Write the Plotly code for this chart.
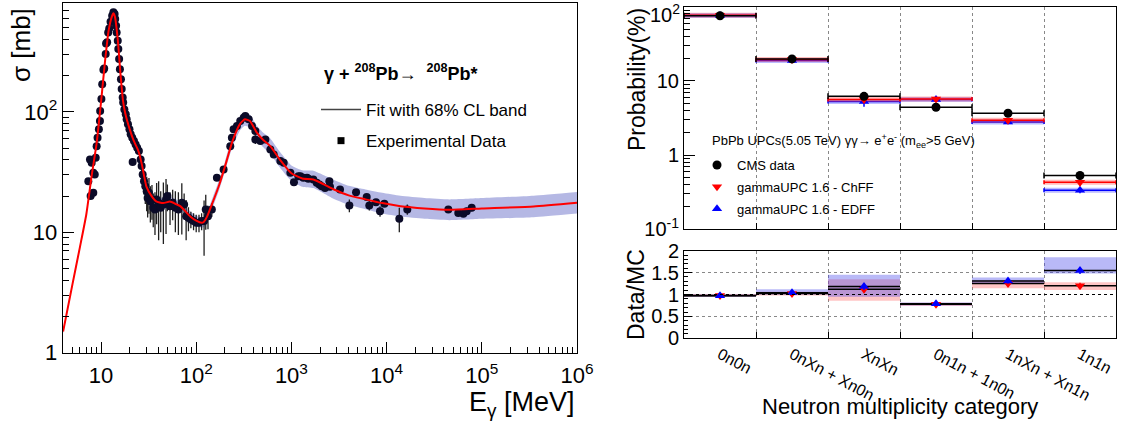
import numpy as np
import plotly.graph_objects as go

# ---------------- left panel: photo-absorption cross section ----------------
fit_E = [4, 5, 6, 7, 8, 9, 10, 11, 12, 13, 13.5, 14, 15, 16, 17, 18, 20, 22, 24, 25,
         27, 30, 34, 38, 45, 53, 60, 68, 78, 88, 100, 114, 120, 130, 150, 175, 200, 240, 290, 325,
         367, 430, 500, 600, 760, 1000, 1300, 1700, 2200, 2800, 4000, 6000, 9000, 14000, 25000,
         46000, 100000, 350000, 1000000]
fit_sigma = [1.5, 3.66, 7.5, 14, 30, 55, 120, 260, 470, 620, 660, 620, 400, 210, 125, 97, 72, 58, 50, 46,
             36, 24, 20, 18.1, 17.5, 18, 17.3, 16.5, 14.8, 13.4, 12.5, 12, 12.2, 13.5, 18, 25, 35, 57, 80, 87,
             84, 68, 59, 52, 40, 31, 28, 27.5, 25, 22.7, 20.3, 18.8, 17.5, 16.5, 15.8,
             15.4, 15.8, 16.4, 17.6]
fit_rel = [0.04, 0.04, 0.04, 0.04, 0.04, 0.04, 0.04, 0.04, 0.04, 0.04,
           0.04, 0.04, 0.04, 0.04, 0.05, 0.05, 0.05, 0.06, 0.06, 0.06,
           0.07, 0.08, 0.09, 0.1, 0.1, 0.1, 0.1, 0.1, 0.1, 0.1,
           0.1, 0.1, 0.1, 0.1, 0.1, 0.1, 0.1, 0.12, 0.13, 0.13,
           0.13, 0.14, 0.15, 0.16, 0.16, 0.16, 0.17, 0.18, 0.19, 0.2,
           0.2, 0.21, 0.22, 0.22, 0.22, 0.22, 0.22, 0.23, 0.23]

exp_E = [7.36, 7.66, 7.98, 8.3, 7.78, 8.3, 8.6, 8.8, 9.0, 9.2, 9.5, 9.75, 9.8, 10.1, 10.3, 10.6, 10.8,
         11.2, 11.3, 11.6, 11.9, 12.2, 12.6, 13.1, 13.5, 13.9, 14.1,
         14.4, 14.6, 15.0, 15.2, 15.5, 15.8, 16.2, 16.5, 16.9, 17.1, 17.6, 18.2, 18.6, 19.2, 19.9,
         20.5, 21.3, 22.2, 23.1, 24, 25, 21.5, 26.1, 26.7, 27.4, 28.3, 29.2, 30.2, 30.9, 31.9, 33,
         34.3, 35.4, 36.9, 38.4, 40.3, 42.4, 45.2, 48.2, 49.8, 53.1, 56.6, 60.4, 65, 70.6, 74.7,
         78.4, 82.9, 87.9, 93.8, 100, 107, 114, 121, 126, 133, 146,
         165, 194, 228, 237, 247, 268, 290, 315, 328, 356, 386, 418, 418, 472, 533, 601, 652, 766,
         830, 975, 1064, 1183, 1242, 1334, 1459, 1505, 1700, 1844, 1964, 2080, 2254, 2504, 2544,
         3240, 4063, 4776, 6180, 6580, 7740, 8530, 9470, 13600, 16500, 44500, 56600, 64000, 69400, 78300]
exp_sigma = [26.6, 40.3, 37.8, 31.3, 20, 21.3, 30.3, 41.7, 52, 61, 71.8, 84, 102, 128, 170, 224, 230,
             303, 371, 379, 458, 495, 563, 631, 673, 652, 592,
             521, 458, 391, 333, 275, 227, 187, 155, 132, 120, 105, 95.6, 86.9, 78.9, 71.8,
             65.2, 61, 57.3, 53.8, 50.5, 47.3, 38.5, 40.3, 35.5, 30.3, 26.6, 24.2, 22, 19.3, 21.3, 18.1,
             18.7, 16, 15.5, 18.7, 17.6, 16, 17, 18.7, 20, 16.5, 17.6, 16, 15.5, 17.6, 17,
             13.6, 13.2, 12.8, 12.4, 12, 12, 12.4, 12.4, 15.5, 13.6, 15.5,
             28.4, 33.3, 52, 61, 71.8, 76.4, 84.1, 89.7, 92.6, 86.9, 76.4, 69.5, 59.2, 57.3, 59.2, 48.9, 44.4, 39.1,
             37.8, 31.3, 26.1, 29.3, 29.3, 28.4, 28.4, 27.9, 27.5, 25.8, 25, 24.2, 23.4, 26.6, 23.9,
             22.7, 16.7, 21.5, 19.7, 16.7, 17.8, 15, 17.3, 13, 15.5, 15.5, 14.5, 14.3, 15, 16]
exp_err = [1, 1.5, 1.5, 1.2, 0.8, 0.8, 1, 1.5, 2, 2, 2.5, 3, 3, 4, 5, 7, 7,
           9, 11, 11, 14, 15, 17, 19, 20, 20, 18,
           16, 14, 12, 10, 8, 7, 6, 5, 4, 4, 3, 3, 3, 3, 3,
           3, 3, 3, 3, 3, 3, 2, 4, 5, 6, 6, 7, 7, 6, 7, 6,
           6, 5, 6, 7, 9, 6, 9, 9, 5, 5, 5, 6, 6, 8, 4,
           5, 3, 2, 2, 2, 2, 2, 6, 5, 3, 2,
           1, 1, 1.5, 2, 2, 2, 2.5, 2.5, 3, 3, 3, 3, 5, 3, 2, 2, 2, 2,
           2, 1.5, 1, 1, 1, 1, 1, 1, 1, 1, 1, 1, 1, 1, 1,
           1, 2, 1, 1, 1.5, 1, 1.5, 1, 3, 1.5, 1, 0.8, 0.8, 1, 1]

# ---------------- right panel: neutron multiplicity categories ----------------
categories = ["0n0n", "0nXn + Xn0n", "XnXn", "0n1n + 1n0n", "1nXn + Xn1n", "1n1n"]
cms_prob = [75.5, 19.8, 6.2, 4.41, 3.66, 0.53]
cms_err = [2.0, 0.8, 0.35, 0.2, 0.15, 0.03]
chff_prob = [77.0, 19.5, 5.6, 5.72, 2.94, 0.43]
chff_err = [3.0, 1.0, 0.6, 0.4, 0.2, 0.05]
edff_prob = [76.0, 18.9, 5.27, 5.6, 2.8, 0.337]
edff_err = [3.0, 1.0, 0.8, 0.4, 0.2, 0.03]

ratio_chff = [0.98, 1.02, 1.12, 0.78, 1.25, 1.20]
ratio_chff_err = [0.04, 0.05, 0.08, 0.04, 0.06, 0.07]
ratio_edff = [0.97, 1.04, 1.18, 0.79, 1.31, 1.55]
ratio_edff_err = [0.04, 0.05, 0.08, 0.04, 0.06, 0.08]
band_chff_lo = [0.95, 0.98, 0.86, 0.74, 1.14, 1.10]
band_chff_hi = [1.01, 1.06, 1.35, 0.81, 1.32, 1.28]
band_edff_lo = [0.95, 1.00, 0.95, 0.75, 1.24, 1.48]
band_edff_hi = [1.00, 1.12, 1.45, 0.82, 1.39, 1.85]

prob_tickvals = [0.1, 1, 10]
prob_ticktext = ["10<sup>-1</sup>", "1", "10"]
prob_top_label = "10<sup>2</sup>"

FONT = "Liberation Sans, Arial, sans-serif"
W, H = 1126, 426


def px(x):
    return x / W


def py(y):
    return 1 - y / H


fig = go.Figure()

# ---- left panel ----
fE = np.array(fit_E, dtype=float)
fS = np.array(fit_sigma, dtype=float)
fR = np.array(fit_rel, dtype=float)
fig.add_trace(go.Scatter(x=fE, y=fS / (1 + fR), mode="lines", line=dict(width=0, shape="spline", smoothing=0.5),
                         showlegend=False, hoverinfo="skip", xaxis="x", yaxis="y"))
fig.add_trace(go.Scatter(x=fE, y=fS * (1 + fR), mode="lines", line=dict(width=0, shape="spline", smoothing=0.5),
                         fill="tonexty", fillcolor="rgba(120,125,205,0.55)",
                         showlegend=False, hoverinfo="skip", xaxis="x", yaxis="y"))
fig.add_trace(go.Scatter(x=exp_E, y=exp_sigma, mode="markers",
                         marker=dict(symbol="circle", size=8, color="#0b0b28"),
                         error_y=dict(type="data", array=exp_err, color="#202020", thickness=1.3, width=0),
                         showlegend=False, xaxis="x", yaxis="y"))
fig.add_trace(go.Scatter(x=fE, y=fS, mode="lines", line=dict(color="#ff0000", width=2, shape="spline", smoothing=0.5),
                         showlegend=False, xaxis="x", yaxis="y"))
# legend entries (left)
fig.add_trace(go.Scatter(x=[None], y=[None], mode="lines", line=dict(color="#444444", width=1.5),
                         name="Fit with 68% CL band", legend="legend", legendgroup="a", legendrank=1,
                         xaxis="x", yaxis="y"))
fig.add_trace(go.Scatter(x=[None], y=[None], mode="markers", marker=dict(symbol="square", size=7, color="black"),
                         name="Experimental Data", legend="legend", legendgroup="b", legendrank=2,
                         xaxis="x", yaxis="y"))

# ---- right top panel ----
centers = np.arange(len(categories)) + 0.5
half = [0.5] * len(categories)
for vals, col, band in [(edff_prob, "#0000ff", "rgba(60,60,255,0.35)"), (chff_prob, "#ff0000", "rgba(255,60,60,0.35)")]:
    fig.add_trace(go.Scatter(x=centers, y=vals, mode="markers", marker=dict(size=0.1, color=band),
                             error_x=dict(type="data", array=half, color=band, thickness=5, width=0),
                             showlegend=False, hoverinfo="skip", xaxis="x2", yaxis="y2"))
    fig.add_trace(go.Scatter(x=centers, y=vals, mode="markers", marker=dict(size=0.1, color=col),
                             error_x=dict(type="data", array=half, color=col, thickness=1.5, width=2),
                             showlegend=False, hoverinfo="skip", xaxis="x2", yaxis="y2"))
fig.add_trace(go.Scatter(x=centers, y=cms_prob, mode="markers", marker=dict(size=0.1, color="black"),
                         error_x=dict(type="data", array=half, color="black", thickness=1.5, width=3),
                         showlegend=False, hoverinfo="skip", xaxis="x2", yaxis="y2"))
fig.add_trace(go.Scatter(x=centers, y=edff_prob, mode="markers", name="gammaUPC 1.6 - EDFF",
                         marker=dict(symbol="triangle-up", size=9, color="#0000ff"),
                         error_y=dict(type="data", array=edff_err, color="#0000ff", thickness=1.5, width=0),
                         legend="legend2", legendgroup="r3", legendrank=3, xaxis="x2", yaxis="y2"))
fig.add_trace(go.Scatter(x=centers, y=chff_prob, mode="markers", name="gammaUPC 1.6 - ChFF",
                         marker=dict(symbol="triangle-down", size=9, color="#ff0000"),
                         error_y=dict(type="data", array=chff_err, color="#ff0000", thickness=1.5, width=0),
                         legend="legend2", legendgroup="r2", legendrank=2, xaxis="x2", yaxis="y2"))
fig.add_trace(go.Scatter(x=centers, y=cms_prob, mode="markers", name="CMS data",
                         marker=dict(symbol="circle", size=9, color="black"),
                         error_y=dict(type="data", array=cms_err, color="black", thickness=1.5, width=0),
                         legend="legend2", legendgroup="r1", legendrank=1, xaxis="x2", yaxis="y2"))

# ---- right bottom panel ----
fig.add_trace(go.Bar(x=centers, base=band_chff_lo, y=np.array(band_chff_hi) - np.array(band_chff_lo), width=1,
                     marker=dict(color="rgba(255,90,90,0.35)", line=dict(width=0)),
                     showlegend=False, hoverinfo="skip", xaxis="x3", yaxis="y3"))
fig.add_trace(go.Bar(x=centers, base=band_edff_lo, y=np.array(band_edff_hi) - np.array(band_edff_lo), width=1,
                     marker=dict(color="rgba(70,70,235,0.38)", line=dict(width=0)),
                     showlegend=False, hoverinfo="skip", xaxis="x3", yaxis="y3"))
for vals in (ratio_chff, ratio_edff):
    fig.add_trace(go.Scatter(x=centers, y=vals, mode="markers", marker=dict(size=0.1, color="black"),
                             error_x=dict(type="data", array=half, color="black", thickness=1.5, width=0),
                             showlegend=False, hoverinfo="skip", xaxis="x3", yaxis="y3"))
fig.add_trace(go.Scatter(x=centers, y=ratio_chff, mode="markers",
                         marker=dict(symbol="triangle-down", size=9, color="#ff0000"),
                         error_y=dict(type="data", array=ratio_chff_err, color="#ff0000", thickness=1.5, width=0),
                         showlegend=False, xaxis="x3", yaxis="y3"))
fig.add_trace(go.Scatter(x=centers, y=ratio_edff, mode="markers",
                         marker=dict(symbol="triangle-up", size=9, color="#0000ff"),
                         error_y=dict(type="data", array=ratio_edff_err, color="#0000ff", thickness=1.5, width=0),
                         showlegend=False, xaxis="x3", yaxis="y3"))

axis_common = dict(showline=True, linecolor="black", linewidth=1, mirror=True, zeroline=False,
                   tickcolor="black", ticks="inside")

n = len(categories)
fig.update_layout(
    width=W, height=H, margin=dict(l=0, r=0, t=0, b=0, autoexpand=False),
    paper_bgcolor="white", plot_bgcolor="white",
    font=dict(family=FONT, color="black"),
    barmode="overlay",
    xaxis=dict(axis_common, type="log", domain=[px(62.7), px(577)], range=[np.log10(3.96), 6], anchor="y",
               tickmode="array", tickvals=[10, 1e2, 1e3, 1e4, 1e5, 1e6],
               ticktext=["10", "10<sup>2</sup>", "10<sup>3</sup>", "10<sup>4</sup>", "10<sup>5</sup>", "10<sup>6</sup>"],
               ticklen=11, tickfont=dict(size=22), showgrid=False, ticklabelstandoff=3,
               minor=dict(ticks="inside", ticklen=6, dtick="D1", tickcolor="black", showgrid=False)),
    yaxis=dict(axis_common, type="log", domain=[py(352.7), py(2.7)], range=[0, 2.908], anchor="x",
               tickmode="array", tickvals=[1, 10, 100], ticktext=["1", "10", "10<sup>2</sup>"],
               ticklen=11, tickfont=dict(size=22), showgrid=False,
               minor=dict(ticks="inside", ticklen=6, dtick="D1", tickcolor="black", showgrid=False)),
    xaxis2=dict(axis_common, domain=[px(684), px(1116)], range=[0, n], anchor="y2",
                tickmode="array", tickvals=list(centers), ticktext=[""] * n, ticklen=0, showgrid=False,
                showticklabels=False,
                minor=dict(tick0=0, dtick=1, ticks="inside", ticklen=6, tickcolor="black",
                           showgrid=True, gridcolor="#888888", griddash="dot", gridwidth=1)),
    yaxis2=dict(axis_common, type="log", domain=[py(229.3), py(6.7)], range=[-1.0005, 2.0005], anchor="x2",
                tickmode="array", tickvals=prob_tickvals, ticktext=prob_ticktext,
                ticklen=11, tickfont=dict(size=20), showgrid=False,
                minor=dict(ticks="inside", ticklen=6, dtick="D1", tickcolor="black", showgrid=False)),
    xaxis3=dict(axis_common, domain=[px(684), px(1116)], range=[0, n], anchor="y3",
                tickmode="array", tickvals=list(centers), ticktext=categories, ticklen=0,
                tickangle=28, tickfont=dict(size=16), showgrid=False, ticklabelstandoff=0,
                minor=dict(tick0=0, dtick=1, ticks="inside", ticklen=6, tickcolor="black",
                           showgrid=True, gridcolor="#888888", griddash="dot", gridwidth=1)),
    yaxis3=dict(axis_common, domain=[py(338.3), py(250.7)], range=[0, 2], anchor="x3",
                tickmode="array", tickvals=[0, 0.5, 1, 1.5, 2], ticktext=["0", "0.5", "1", "1.5", "2"],
                ticklen=8, tickfont=dict(size=20), showgrid=True, gridcolor="#888888", griddash="dot",
                minor=dict(ticks="inside", ticklen=4, dtick=0.1, tick0=0, tickcolor="black", showgrid=False)),
    legend=dict(x=px(316), y=py(92), xanchor="left", yanchor="top", bgcolor="rgba(0,0,0,0)",
                font=dict(size=17, family=FONT), traceorder="grouped", tracegroupgap=6, itemwidth=40),
    legend2=dict(x=px(697), y=py(150), xanchor="left", yanchor="top", bgcolor="rgba(0,0,0,0)",
                 font=dict(size=13, family=FONT), traceorder="grouped", tracegroupgap=2),
    shapes=[dict(type="line", xref="x3", yref="y3", x0=0, x1=n, y0=1, y1=1,
                 line=dict(color="black", width=1.2, dash="dot"))],
    annotations=[
        dict(text=prob_top_label, x=px(681), y=1, xref="paper", yref="paper",
             showarrow=False, font=dict(size=20), xanchor="right", yanchor="top", borderpad=0),
        dict(text="σ [mb]", x=px(21), y=py(45), xref="paper", yref="paper", textangle=-90,
             showarrow=False, font=dict(size=26), xanchor="center", yanchor="middle"),
        dict(text="E<sub>γ</sub> [MeV]", x=px(577), y=py(404), xref="paper", yref="paper",
             showarrow=False, font=dict(size=27), xanchor="right", yanchor="middle"),
        dict(text="<b>γ + <sup>208</sup>Pb→  <sup>208</sup>Pb*</b>", x=px(401), y=py(72), xref="paper", yref="paper",
             showarrow=False, font=dict(size=18), xanchor="center", yanchor="middle"),
        dict(text="Probability(%)", x=px(637), y=py(80), xref="paper", yref="paper", textangle=-90,
             showarrow=False, font=dict(size=23), xanchor="center", yanchor="middle"),
        dict(text="Data/MC", x=px(636), y=py(295), xref="paper", yref="paper", textangle=-90,
             showarrow=False, font=dict(size=23), xanchor="center", yanchor="middle"),
        dict(text="Neutron multiplicity category", x=px(900), y=py(406), xref="paper", yref="paper",
             showarrow=False, font=dict(size=22), xanchor="center", yanchor="middle"),
        dict(text="PbPb UPCs(5.05 TeV) γγ→ e<sup>+</sup>e<sup>-</sup> (m<sub>ee</sub>&gt;5 GeV)",
             x=px(710), y=py(141), xref="paper", yref="paper",
             showarrow=False, font=dict(size=13), xanchor="left", yanchor="middle"),
    ],
)

fig.write_html("out.html", config={"displayModeBar": False},
               post_script="document.body.style.margin='0px';document.body.style.padding='0px';"
                           "document.body.style.overflow='hidden';")
